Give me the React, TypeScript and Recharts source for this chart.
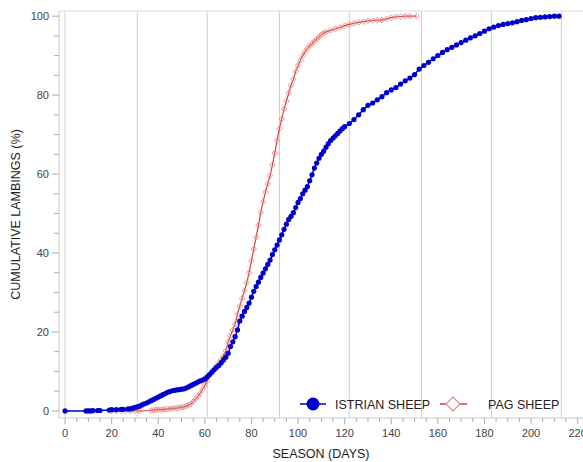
import React from 'react';
import { LineChart, Line, XAxis, YAxis, ReferenceLine, Legend } from 'recharts';

const istrianDays = [0, 9, 10, 11, 12, 14, 15, 19, 20, 22, 24, 25, 27, 28, 29, 30, 31, 32, 33, 34, 35, 36, 37, 38, 39, 40, 41, 42, 43, 44, 45, 46, 47, 48, 49, 50, 51, 52, 53, 54, 55, 56, 57, 58, 59, 60, 61, 62, 63, 64, 65, 66, 67, 68, 69, 70, 71, 72, 73, 74, 75, 76, 77, 78, 79, 80, 81, 82, 83, 84, 85, 86, 87, 88, 89, 90, 91, 92, 93, 94, 95, 96, 97, 98, 99, 100, 101, 102, 103, 104, 105, 106, 107, 108, 109, 110, 111, 112, 113, 114, 115, 116, 117, 118, 119, 120, 122, 124, 126, 128, 130, 132, 134, 136, 138, 140, 142, 144, 146, 148, 150, 152, 154, 156, 158, 160, 162, 164, 166, 168, 170, 172, 174, 176, 178, 180, 182, 184, 186, 188, 190, 192, 194, 196, 198, 200, 202, 204, 206, 208, 210, 212];
const istrianPct = [0, 0, 0, 0, 0.05, 0.1, 0.1, 0.2, 0.3, 0.3, 0.4, 0.4, 0.5, 0.5, 0.7, 0.9, 1.0, 1.2, 1.5, 1.8, 2.0, 2.3, 2.6, 2.9, 3.2, 3.5, 3.8, 4.1, 4.4, 4.7, 4.9, 5.1, 5.2, 5.3, 5.4, 5.5, 5.6, 5.8, 6.1, 6.4, 6.7, 7.0, 7.3, 7.6, 7.8, 8.1, 8.6, 9.2, 9.8, 10.4, 11.0, 11.5, 12.2, 12.9, 13.6, 14.6, 16.3, 17.5, 18.8, 20.5, 22.8, 24.0, 25.2, 26.2, 27.3, 28.8, 30.3, 31.5, 32.6, 33.8, 34.9, 36.0, 37.1, 38.2, 39.6, 40.8, 42.0, 43.3, 44.6, 46.0, 47.3, 48.5, 49.3, 50.2, 51.5, 52.8, 53.8, 55.0, 55.9, 56.8, 58.3, 59.8, 61.5, 62.8, 64.0, 65.0, 65.8, 66.8, 67.7, 68.5, 69.1, 69.7, 70.3, 70.9, 71.5, 72.0, 72.8, 73.8, 75.0, 76.3, 77.4, 78.0, 78.8, 79.6, 80.6, 81.3, 81.9, 82.8, 83.6, 84.3, 85.2, 86.6, 87.5, 88.3, 89.2, 90.0, 90.8, 91.5, 92.1, 92.7, 93.3, 93.9, 94.5, 95.0, 95.6, 96.2, 96.8, 97.2, 97.6, 97.9, 98.1, 98.3, 98.6, 98.9, 99.1, 99.4, 99.6, 99.7, 99.8, 99.9, 100, 100];

const pagDays = [20, 22, 24, 26, 28, 30, 32, 37, 38, 39, 40, 41, 42, 43, 44, 45, 46, 47, 48, 49, 50, 51, 52, 53, 54, 55, 56, 57, 58, 59, 60, 61, 62, 63, 64, 65, 66, 67, 68, 69, 70, 71, 72, 73, 74, 75, 76, 77, 78, 79, 80, 81, 82, 83, 84, 85, 86, 87, 88, 89, 90, 91, 92, 93, 94, 95, 96, 97, 98, 99, 100, 101, 102, 103, 104, 105, 106, 107, 108, 109, 110, 111, 112, 114, 116, 118, 120, 122, 124, 126, 128, 130, 132, 134, 136, 138, 140, 142, 144, 146, 148, 151];
const pagPct = [0, 0, 0, 0, 0, 0, 0, 0.1, 0.2, 0.3, 0.3, 0.3, 0.4, 0.4, 0.5, 0.5, 0.6, 0.7, 0.7, 0.8, 0.9, 1.0, 1.2, 1.5, 1.8, 2.4, 3.0, 3.7, 4.5, 5.5, 6.5, 7.6, 9.0, 9.9, 10.7, 11.4, 12.2, 13.0, 14.0, 15.2, 17.5, 19.0, 20.5, 22.0, 24.5, 26.5, 28.5, 30.5, 32.5, 35.0, 38.0, 41.0, 44.0, 47.0, 50.3, 53.0, 55.4, 57.5, 59.6, 62.3, 65.3, 68.5, 71.5, 74.0, 76.5, 78.5, 80.5, 82.5, 84.0, 86.0, 87.5, 88.8, 90.0, 91.0, 91.8, 92.5, 93.0, 93.6, 94.2, 94.7, 95.3, 95.7, 96.0, 96.4, 96.8, 97.1, 97.6, 97.9, 98.2, 98.4, 98.6, 98.8, 98.9, 99.0, 99.0, 99.3, 99.6, 99.8, 99.9, 100, 100, 100];

const xTicks = [0, 5, 10, 15, 20, 25, 30, 35, 40, 45, 50, 55, 60, 65, 70, 75, 80, 85, 90, 95, 100, 105, 110, 115, 120, 125, 130, 135, 140, 145, 150, 155, 160, 165, 170, 175, 180, 185, 190, 195, 200, 205, 210, 215, 220];
const yTicks = [0, 5, 10, 15, 20, 25, 30, 35, 40, 45, 50, 55, 60, 65, 70, 75, 80, 85, 90, 95, 100];
const monthStartDays = [0, 31, 61, 92, 122, 153, 183, 213];
const seriesNames = ['ISTRIAN SHEEP', 'PAG SHEEP'];

const istrianData = istrianDays.map((d, i) => ({ day: d, pct: istrianPct[i] }));
const pagData = pagDays.map((d, i) => ({ day: d, pct: pagPct[i] }));

const FONT = "'Liberation Sans', Arial, sans-serif";
const BLUE = '#0000cc';
const RED_LINE = '#d04545';
const RED_MARK = '#e88585';

const XTick = (props: any) => {
  const { x, y, payload } = props;
  const v = payload.value;
  const major = v % 20 === 0;
  return (
    <g>
      <line x1={x} x2={x} y1={y} y2={y + (major ? 6 : 4)} stroke="#aaa" strokeWidth={1} />
      {major && (
        <text x={x} y={y + 19} textAnchor="middle" fontSize={11} fill="#444" fontFamily={FONT}>
          {v}
        </text>
      )}
    </g>
  );
};

const YTick = (props: any) => {
  const { x, y, payload } = props;
  const v = payload.value;
  const major = v % 20 === 0;
  return (
    <g>
      <line x1={x - (major ? 7 : 5)} x2={x} y1={y} y2={y} stroke="#aaa" strokeWidth={1} />
      {major && (
        <text x={x - 10} y={y + 4} textAnchor="end" fontSize={11} fill="#444" fontFamily={FONT}>
          {v}
        </text>
      )}
    </g>
  );
};

const PagDot = (props: any) => {
  const { cx, cy, index } = props;
  if (cx == null || cy == null) return <g key={`pd-${index}`} />;
  const s = 2.8;
  return (
    <path
      key={`pd-${index}`}
      d={`M${cx},${cy - s}L${cx + s},${cy}L${cx},${cy + s}L${cx - s},${cy}Z`}
      fill="none"
      stroke={RED_MARK}
      strokeWidth={0.9}
    />
  );
};

const LegendContent = () => (
  <svg width={290} height={24} style={{ display: 'block' }}>
    <line x1={10} x2={36} y1={12} y2={12} stroke={BLUE} strokeWidth={1.5} />
    <circle cx={23} cy={12} r={6.5} fill={BLUE} />
    <text x={45} y={16.5} fontSize={12.5} fill="#222" fontFamily={FONT}>{seriesNames[0]}</text>
    <line x1={150} x2={177} y1={12} y2={12} stroke={RED_LINE} strokeWidth={1.5} />
    <path d="M163,5L170,12L163,19L156,12Z" fill="#fff" stroke={RED_MARK} strokeWidth={1.2} />
    <text x={198} y={16.5} fontSize={12.5} fill="#222" fontFamily={FONT}>{seriesNames[1]}</text>
  </svg>
);

export default function App() {
  return (
    <div style={{ position: 'absolute', left: 0, top: 0, width: 583, height: 462, background: '#fff' }}>
      <LineChart width={583} height={462} margin={{ top: 11, right: 0, left: 0, bottom: 0 }}>
        <XAxis
          dataKey="day"
          type="number"
          domain={[-2.6, 222.3]}
          allowDataOverflow
          ticks={xTicks}
          interval={0}
          tick={<XTick />}
          tickLine={false}
          tickSize={0}
          tickMargin={0}
          height={44}
          axisLine={{ stroke: '#c8c8c8' }}
          label={{ value: 'SEASON (DAYS)', position: 'insideBottom', offset: 4, fill: '#222', fontSize: 12.5, fontFamily: FONT }}
        />
        <YAxis
          dataKey="pct"
          type="number"
          domain={[-1.8, 101.3]}
          allowDataOverflow
          ticks={yTicks}
          interval={0}
          tick={<YTick />}
          tickLine={false}
          tickSize={0}
          tickMargin={0}
          width={59}
          axisLine={{ stroke: '#c8c8c8' }}
          label={{ value: 'CUMULATIVE LAMBINGS (%)', angle: -90, position: 'center', dx: -14, fill: '#222', fontSize: 12.5, fontFamily: FONT }}
        />
        {monthStartDays.map((d) => (
          <ReferenceLine key={`m-${d}`} x={d} stroke="#cfcfcf" strokeWidth={1} />
        ))}
        <ReferenceLine y={101.3} stroke="#dddddd" strokeWidth={1} />
        <Line
          data={pagData}
          dataKey="pct"
          name={seriesNames[1]}
          stroke={RED_LINE}
          strokeWidth={1.2}
          dot={<PagDot />}
          isAnimationActive={false}
        />
        <Line
          data={istrianData}
          dataKey="pct"
          name={seriesNames[0]}
          stroke={BLUE}
          strokeWidth={1.5}
          dot={{ r: 2.6, fill: BLUE, stroke: BLUE, strokeWidth: 0 }}
          isAnimationActive={false}
        />
        <Legend
          layout="horizontal"
          verticalAlign="middle"
          align="center"
          content={<LegendContent />}
          wrapperStyle={{ left: 290, top: 392, width: 290, height: 24 }}
        />
      </LineChart>
    </div>
  );
}
